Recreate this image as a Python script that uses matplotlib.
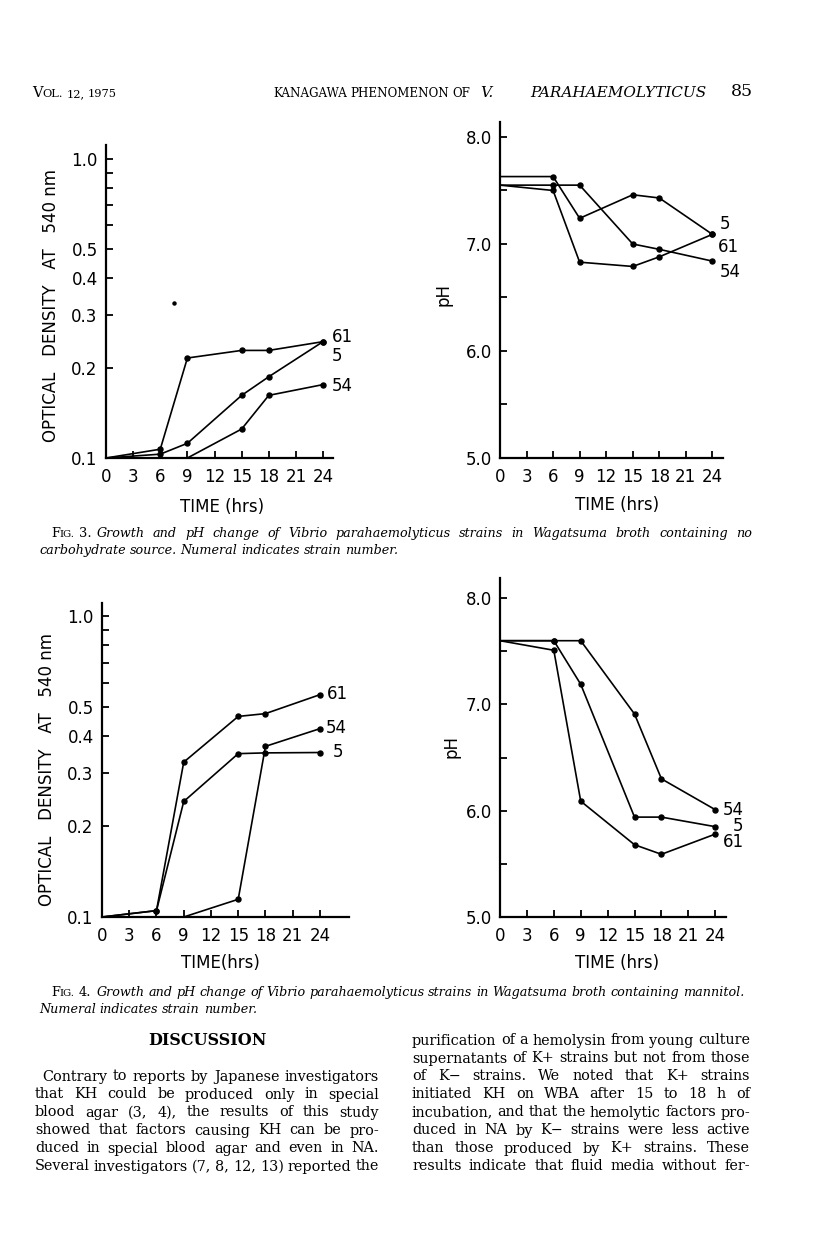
import matplotlib
matplotlib.use('Agg')
import matplotlib.pyplot as plt
from matplotlib.ticker import NullLocator

# ---- data ----
hours = [0, 6, 9, 15, 18, 24]
hours_late = [9, 15, 18, 24]
hour_ticks = [0, 3, 6, 9, 12, 15, 18, 21, 24]

od_ticks = [0.1, 0.2, 0.3, 0.4, 0.5, 0.6, 0.7, 0.8, 0.9, 1.0]
od_labels = ['0.1', '0.2', '0.3', '0.4', '0.5', '', '', '', '', '1.0']
ph_ticks = [5.0, 5.5, 6.0, 6.5, 7.0, 7.5, 8.0]
ph_labels = ['5.0', '', '6.0', '', '7.0', '', '8.0']

# Fig. 3 - no carbohydrate source
f3_od_61 = [0.100, 0.107, 0.216, 0.229, 0.229, 0.245]
f3_od_5 = [0.100, 0.103, 0.112, 0.162, 0.187, 0.245]
f3_od_54 = [0.100, 0.125, 0.162, 0.176]          # from 9 h
f3_speck_x, f3_speck_y = [7.5], [0.33]
f3_ph_5 = [7.63, 7.63, 7.24, 7.46, 7.43, 7.09]
f3_ph_61 = [7.55, 7.50, 6.83, 6.79, 6.88, 7.09]
f3_ph_54 = [7.55, 7.55, 7.55, 7.00, 6.95, 6.84]

# Fig. 4 - mannitol
f4_od_61 = [0.100, 0.105, 0.327, 0.464, 0.474, 0.548]
f4_od_5 = [0.100, 0.105, 0.242, 0.349, 0.351, 0.352]
f4_od_54 = [0.100, 0.1145, 0.369, 0.4225]         # from 9 h
f4_ph_54 = [7.60, 7.60, 7.60, 6.91, 6.30, 6.01]
f4_ph_5 = [7.60, 7.60, 7.19, 5.94, 5.94, 5.85]
f4_ph_61 = [7.60, 7.51, 6.09, 5.68, 5.59, 5.78]

cap3_1 = 'Growth and pH change of Vibrio parahaemolyticus strains in Wagatsuma broth containing no'
cap3_2 = 'carbohydrate source. Numeral indicates strain number.'
cap4_1 = 'Growth and pH change of Vibrio parahaemolyticus strains in Wagatsuma broth containing mannitol.'
cap4_2 = 'Numeral indicates strain number.'

left_col = ['Contrary to reports by Japanese investigators',
            'that KH could be produced only in special',
            'blood agar (3, 4), the results of this study',
            'showed that factors causing KH can be pro-',
            'duced in special blood agar and even in NA.',
            'Several investigators (7, 8, 12, 13) reported the']
right_col = ['purification of a hemolysin from young culture',
             'supernatants of K+ strains but not from those',
             'of K\u2212 strains. We noted that K+ strains',
             'initiated KH on WBA after 15 to 18 h of',
             'incubation, and that the hemolytic factors pro-',
             'duced in NA by K\u2212 strains were less active',
             'than those produced by K+ strains. These',
             'results indicate that fluid media without fer-']

W, H = 816, 1257
fig = plt.figure(figsize=(W / 100, H / 100), dpi=100)
fig.patch.set_facecolor('white')
ren = fig.canvas.get_renderer()
SANS = 'DejaVu Sans'
SERIF = 'DejaVu Serif'


def fx(x):
    return x / W


def fy(y):
    return 1 - y / H


def put(x, y, s, **kw):
    return fig.text(fx(x), fy(y), s, **kw)


def width(t):
    return t.get_window_extent(ren).width


def line(words, x0, y, x1=None, size=10.4, **kw):
    ts = [put(x0, y, w, fontsize=size, va='baseline', family=SERIF, **kw) for w in words]
    ws = [width(t) for t in ts]
    n = max(len(words) - 1, 1)
    if x1 is None:
        gap = size * 0.3 * 100 / 72
    else:
        gap = (x1 - x0 - sum(ws)) / n
        if gap < 3:
            k = (x1 - x0 - 3 * n) / sum(ws)
            for t in ts:
                t.set_fontsize(size * k)
            ws = [width(t) for t in ts]
            gap = (x1 - x0 - sum(ws)) / n
    x = x0
    for t, w in zip(ts, ws):
        t.set_position((fx(x), fy(y)))
        x += w + gap
    return x - gap


def smallcaps(x, y, big, small, size, **kw):
    t = put(x, y, big, fontsize=size, va='baseline', family=SERIF, **kw)
    x += width(t)
    t = put(x, y, small, fontsize=size * 0.78, va='baseline', family=SERIF, **kw)
    return x + width(t)


def make_axes(x0, x1, ytop, ybot, xmax):
    ax = fig.add_axes([fx(x0), fy(ybot), (x1 - x0) / W, (ybot - ytop) / H])
    ax.patch.set_visible(False)
    for s in ('top', 'right'):
        ax.spines[s].set_visible(False)
    for s in ('left', 'bottom'):
        ax.spines[s].set_linewidth(1.6)
    ax.tick_params(direction='in', length=5, width=1.3, labelsize=12)
    ax.tick_params(axis='x', pad=7)
    ax.tick_params(axis='y', pad=6)
    ax.set_xlim(0, xmax)
    ax.set_xticks(hour_ticks)
    ax.set_xticklabels([str(h) for h in hour_ticks], family=SANS)
    return ax


def od_axes(ax, top):
    ax.set_yscale('log')
    ax.set_ylim(0.1, top)
    ax.set_yticks(od_ticks)
    ax.set_yticklabels(od_labels, family=SANS)
    ax.yaxis.set_minor_locator(NullLocator())


def ph_axes(ax, top):
    ax.set_ylim(5.0, top)
    ax.set_yticks(ph_ticks)
    ax.set_yticklabels(ph_labels, family=SANS)


def series(ax, x, y):
    ax.plot(x, y, color='black', lw=1.2, marker='o', ms=3.6,
            markevery=list(range(1, len(x))), clip_on=False, zorder=3)


# ---- Fig. 3 OD ----
ax = make_axes(106, 333, 145, 458, 25.1)
od_axes(ax, 1.114)
series(ax, hours, f3_od_61)
series(ax, hours, f3_od_5)
series(ax, hours_late, f3_od_54)
ax.plot(f3_speck_x, f3_speck_y, 'o', color='black', ms=2.2)
for s, y in (('61', 337), ('5', 356), ('54', 386)):
    put(332, y, s, fontsize=12, family=SANS, va='center')

# ---- Fig. 3 pH ----
ax = make_axes(500, 723, 122, 458, 25.2)
ph_axes(ax, 8.14)
series(ax, hours, f3_ph_5)
series(ax, hours, f3_ph_61)
series(ax, hours, f3_ph_54)
for s, x, y in (('5', 720, 224), ('61', 718, 247), ('54', 720, 272)):
    put(x, y, s, fontsize=12, family=SANS, va='center')

# ---- Fig. 4 OD ----
ax = make_axes(102, 349, 603, 917, 27.2)
od_axes(ax, 1.105)
series(ax, hours, f4_od_61)
series(ax, hours, f4_od_5)
series(ax, hours_late, f4_od_54)
for s, x, y in (('61', 327, 694), ('54', 326, 728), ('5', 333, 752)):
    put(x, y, s, fontsize=12, family=SANS, va='center')

# ---- Fig. 4 pH ----
ax = make_axes(500, 726, 578, 917, 25.2)
ph_axes(ax, 8.19)
series(ax, hours, f4_ph_54)
series(ax, hours, f4_ph_5)
series(ax, hours, f4_ph_61)
for s, x, y in (('54', 723, 810), ('5', 733, 826), ('61', 723, 842)):
    put(x, y, s, fontsize=12, family=SANS, va='center')

# axis titles
for x, y in ((51, 306), (47, 770)):
    put(x, y, 'OPTICAL   DENSITY   AT   540 nm', rotation=90, ha='center',
        va='center', fontsize=12, family=SANS)
for x, y in ((444, 295), (451, 747)):
    put(x, y, 'pH', rotation=90, ha='center', va='center', fontsize=12, family=SANS)
for x, y, s in ((222, 507, 'TIME (hrs)'), (617, 505, 'TIME (hrs)'),
                (220, 963, 'TIME(hrs)'), (617, 963, 'TIME (hrs)')):
    put(x, y, s, ha='center', va='center', fontsize=12, family=SANS)

# ---- running head ----
x = smallcaps(32, 97, 'V', 'OL.', 10.5)
line(['12,', '1975'], x + 4, 97, 117, size=10.5)
line(['KANAGAWA', 'PHENOMENON', 'OF'], 273, 97, 470, size=10.5)
line(['V.', 'PARAHAEMOLYTICUS'], 480, 97, 706, size=11, style='italic')
put(731, 96, '85', fontsize=12.5, family=SERIF, va='baseline')

# ---- captions ----
for y, c1, c2, full in ((537, cap3_1, cap3_2, True), (996, cap4_1, cap4_2, False)):
    x = smallcaps(51, y, 'F', 'IG.', 9.4)
    x = line(['3.' if full else '4.'], x + 4, y, size=9.4)
    line(c1.split(), x + 5, y, 752 if full else None, size=9.2, style='italic')
    line(c2.split(), 39, y + 17, size=9.2, style='italic')

# ---- discussion text ----
put(207, 1045, 'DISCUSSION', ha='center', va='baseline', fontsize=11.5,
    weight='bold', family=SERIF)
for i, txt in enumerate(left_col):
    x0 = 42 if i == 0 else 35
    line(txt.split(), x0, 1080.5 + 18 * i, 379)
for i, txt in enumerate(right_col):
    line(txt.split(), 412, 1044.5 + 18 * i, 750)

fig.savefig('out.png', dpi=100, facecolor='white')
